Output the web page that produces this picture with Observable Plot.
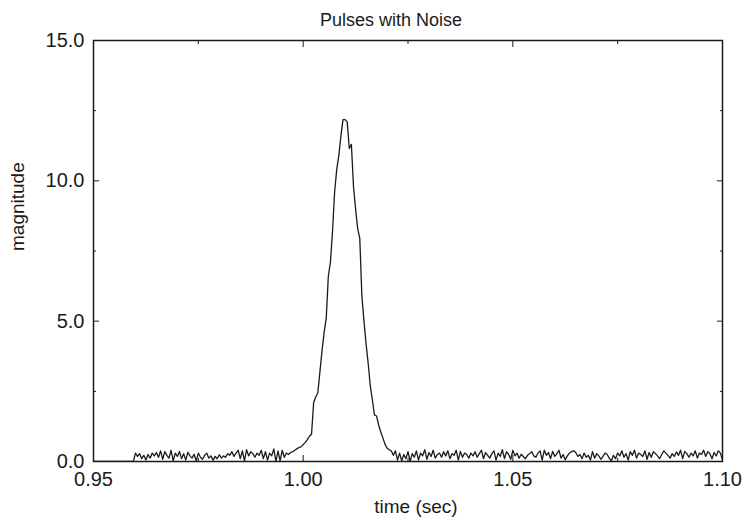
<!DOCTYPE html>
<html><head><meta charset="utf-8">
<script src="https://cdn.jsdelivr.net/npm/d3@7"></script>
<script src="https://cdn.jsdelivr.net/npm/@observablehq/plot@0.6"></script>
<style>body{margin:0;background:#fff}</style>
</head><body><div id="chart"></div>
<script>
const title = "Pulses with Noise";
const xLabel = "time (sec)";
const yLabel = "magnitude";
const dt = 0.0005;
const leadTimes = [0.95, 0.9595];
const leadValues = [0, 0];
const noiseAStart = 0.96;
const noiseA = [0.30,0.18,0.28,0.10,0.22,0.05,0.25,0.12,0.30,0.20,
0.32,0.15,0.38,0.08,0.35,0.22,0.12,0.40,0.02,0.30,
0.18,0.36,0.10,0.28,0.05,0.33,0.20,0.12,0.26,0.02,
0.30,0.15,0.08,0.22,0.30,0.12,0.20,0.05,0.18,0.10,
0.24,0.12,0.20,0.15,0.28,0.22,0.35,0.18,0.30,0.40,
0.10,0.38,0.02,0.42,0.20,0.35,0.28,0.15,0.30,0.22,
0.40,0.10,0.35,0.05,0.30,0.20,0.45,0.00,0.38,0.02,
0.40,0.15,0.30,0.25,0.32];
const pulseStart = 0.9975;
const pulse = [0.35,0.40,0.45,0.50,0.52,0.60,0.68,0.78,0.90,0.98,
2.10,2.30,2.45,3.20,3.95,4.60,5.10,6.60,7.10,8.20,
9.60,10.40,10.90,11.60,12.18,12.18,12.10,11.15,11.30,9.80,
9.00,8.30,7.95,5.90,5.00,4.20,3.50,2.70,2.20,1.66,
1.62,1.30,1.05,0.85,0.62,0.48,0.42,0.38,0.22,0.38];
const noiseBStart = 1.0225;
const noiseB = [0.05,0.30,0.02,0.25,0.10,0.35,0.00,0.28,0.15,0.38,
0.05,0.30,0.20,0.42,0.08,0.32,0.18,0.40,0.12,0.25,
0.30,0.15,0.35,0.20,0.38,0.10,0.28,0.22,0.40,0.05,
0.36,0.15,0.30,0.25,0.12,0.30,0.20,0.35,0.15,0.28,
0.40,0.10,0.32,0.22,0.12,0.28,0.38,0.05,0.30,0.18,
0.42,0.10,0.35,0.25,0.08,0.40,0.20,0.30,0.12,0.26,
0.18,0.10,0.22,0.28,0.35,0.20,0.15,0.30,0.38,0.05,
0.40,0.22,0.32,0.10,0.36,0.18,0.28,0.40,0.12,0.25,
0.06,0.20,0.30,0.35,0.38,0.32,0.18,0.25,0.10,0.30,
0.15,0.22,0.05,0.35,0.12,0.28,0.20,0.08,0.18,0.30,
0.25,0.12,0.02,0.22,0.10,0.30,0.20,0.38,0.15,0.28,
0.05,0.35,0.22,0.40,0.12,0.30,0.25,0.18,0.38,0.08,
0.32,0.15,0.35,0.28,0.20,0.10,0.25,0.38,0.30,0.22,
0.12,0.28,0.18,0.34,0.22,0.40,0.10,0.36,0.28,0.15,
0.30,0.20,0.38,0.12,0.30,0.25,0.40,0.18,0.35,0.28,
0.10,0.32,0.20,0.38,0.30,0.05];
const xDomain = [0.95, 1.10];
const yDomain = [0, 15];
const xTicks = [0.95, 1.00, 1.05, 1.10];
const xMinor = [0.975, 1.025, 1.075];
const yTicks = [0, 5, 10, 15];
const yMinor = [2.5, 7.5, 12.5];

const data = [];
leadTimes.forEach((t, i) => data.push({t, v: leadValues[i]}));
noiseA.forEach((v, i) => data.push({t: noiseAStart + i * dt, v}));
pulse.forEach((v, i) => data.push({t: pulseStart + i * dt, v}));
noiseB.forEach((v, i) => data.push({t: noiseBStart + i * dt, v}));

const ink = "#1a1a1a";
const chart = Plot.plot({
  width: 747, height: 527,
  marginLeft: 93, marginRight: 25, marginTop: 40, marginBottom: 66,
  style: {fontFamily: "'Liberation Sans', Arial, sans-serif", fontSize: "20px", color: ink, background: "#fff"},
  x: {domain: xDomain},
  y: {domain: yDomain},
  marks: [
    Plot.line(data, {x: "t", y: "v", stroke: ink, strokeWidth: 1.3, clip: true}),
    Plot.frame({stroke: ink, strokeWidth: 1.5}),
    Plot.axisX({ticks: xTicks, tickFormat: d3.format(".2f"), tickSize: -6, tickPadding: 16, label: null, stroke: ink}),
    Plot.axisX({ticks: xMinor, tickSize: -3, text: null, label: null, stroke: ink}),
    Plot.axisX({anchor: "top", ticks: xTicks, tickSize: -6, text: null, label: null, stroke: ink}),
    Plot.axisX({anchor: "top", ticks: xMinor, tickSize: -3, text: null, label: null, stroke: ink}),
    Plot.axisY({ticks: yTicks, tickFormat: d3.format(".1f"), tickSize: -6, tickPadding: 15, label: null, stroke: ink}),
    Plot.axisY({ticks: yMinor, tickSize: -3, text: null, label: null, stroke: ink}),
    Plot.axisY({anchor: "right", ticks: yTicks, tickSize: -6, text: null, label: null, stroke: ink}),
    Plot.axisY({anchor: "right", ticks: yMinor, tickSize: -3, text: null, label: null, stroke: ink}),
    Plot.text([title], {frameAnchor: "top", dx: -17, dy: -27, fill: ink, fontSize: 18}),
    Plot.text([xLabel], {frameAnchor: "bottom", dx: 8, dy: 51, fill: ink, fontSize: 19}),
    Plot.text([yLabel], {frameAnchor: "left", dx: -76, rotate: -90, fill: ink, fontSize: 19})
  ]
});
document.getElementById("chart").appendChild(chart);
</script>
</body></html>
